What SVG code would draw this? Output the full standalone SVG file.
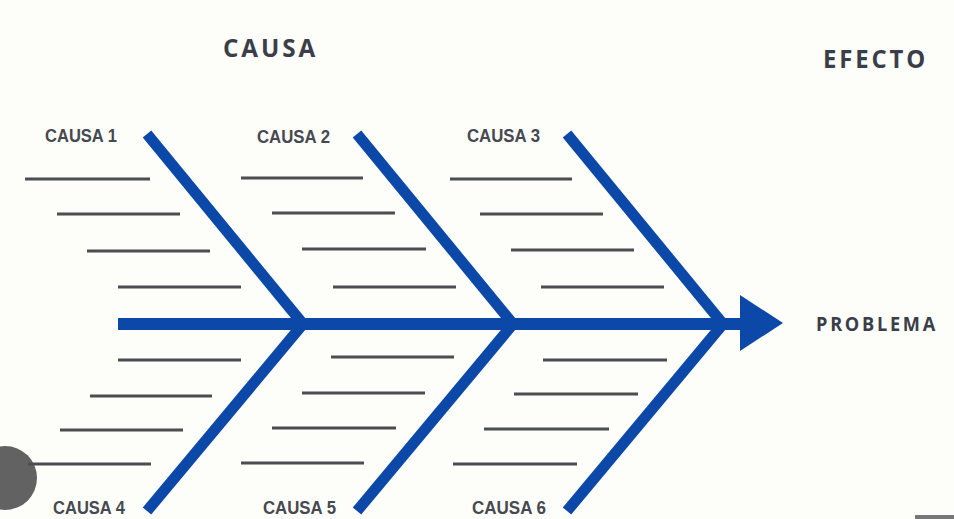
<svg xmlns="http://www.w3.org/2000/svg" width="954" height="519" viewBox="0 0 954 519">
<style>
.bone{stroke:#0b48a8;stroke-width:11;fill:none;stroke-linecap:butt}
.spine{stroke:#0b48a8;stroke-width:12;fill:none}
.sub{stroke:#4a4d52;stroke-width:3;fill:none}
.lbl{font-family:"Liberation Sans",Arial,sans-serif;font-size:19px;fill:#46494f;font-weight:bold}
.ttl{font-family:"Open Sans","Liberation Sans",sans-serif;font-weight:bold;fill:#3a3e48;letter-spacing:3px}
</style>
<rect width="954" height="519" fill="#fdfdf9"/>
<circle cx="5" cy="478" r="32" fill="#626262"/>
<rect x="915" y="515" width="39" height="4" fill="#777"/>
<g id="connectors">
<line class="spine" x1="118" y1="324" x2="745" y2="324"/>
<polygon points="740,295 783,323 740,351" fill="#0b48a8"/>
<line class="bone" x1="147" y1="134" x2="303" y2="324"/>
<line class="bone" x1="303" y1="324" x2="147" y2="511"/>
<line class="bone" x1="357" y1="134" x2="513" y2="324"/>
<line class="bone" x1="513" y1="324" x2="357" y2="511"/>
<line class="bone" x1="567" y1="134" x2="723" y2="324"/>
<line class="bone" x1="723" y1="324" x2="567" y2="511"/>
</g>
<g id="causa1">
<text class="lbl" x="45" y="142" textLength="72" lengthAdjust="spacingAndGlyphs">CAUSA 1</text>
<line class="sub" x1="25" y1="179" x2="150" y2="179"/>
<line class="sub" x1="57" y1="214" x2="180" y2="214"/>
<line class="sub" x1="87" y1="251" x2="210" y2="251"/>
<line class="sub" x1="118" y1="287" x2="241" y2="287"/>
</g>
<g id="causa2">
<text class="lbl" x="257" y="143" textLength="73" lengthAdjust="spacingAndGlyphs">CAUSA 2</text>
<line class="sub" x1="241" y1="178" x2="363" y2="178"/>
<line class="sub" x1="272" y1="213" x2="395" y2="213"/>
<line class="sub" x1="302" y1="249" x2="426" y2="249"/>
<line class="sub" x1="333" y1="287" x2="456" y2="287"/>
</g>
<g id="causa3">
<text class="lbl" x="467" y="142" textLength="73" lengthAdjust="spacingAndGlyphs">CAUSA 3</text>
<line class="sub" x1="450" y1="179" x2="572" y2="179"/>
<line class="sub" x1="480" y1="214" x2="603" y2="214"/>
<line class="sub" x1="511" y1="250" x2="634" y2="250"/>
<line class="sub" x1="541" y1="287" x2="664" y2="287"/>
</g>
<g id="causa4">
<line class="sub" x1="118" y1="360" x2="241" y2="360"/>
<line class="sub" x1="90" y1="396" x2="212" y2="396"/>
<line class="sub" x1="60" y1="430" x2="183" y2="430"/>
<line class="sub" x1="28" y1="464" x2="151" y2="464"/>
<text class="lbl" x="53" y="514" textLength="72" lengthAdjust="spacingAndGlyphs">CAUSA 4</text>
</g>
<g id="causa5">
<line class="sub" x1="331" y1="357" x2="454" y2="357"/>
<line class="sub" x1="302" y1="393" x2="425" y2="393"/>
<line class="sub" x1="272" y1="428" x2="396" y2="428"/>
<line class="sub" x1="241" y1="463" x2="364" y2="463"/>
<text class="lbl" x="263" y="514" textLength="73" lengthAdjust="spacingAndGlyphs">CAUSA 5</text>
</g>
<g id="causa6">
<line class="sub" x1="543" y1="360" x2="667" y2="360"/>
<line class="sub" x1="514" y1="394" x2="638" y2="394"/>
<line class="sub" x1="484" y1="429" x2="609" y2="429"/>
<line class="sub" x1="453" y1="464" x2="577" y2="464"/>
<text class="lbl" x="472" y="514" textLength="74" lengthAdjust="spacingAndGlyphs">CAUSA 6</text>
</g>
<g id="titulo-causa">
<text class="ttl" x="223" y="57" font-size="25" textLength="95" lengthAdjust="spacingAndGlyphs">CAUSA</text>
</g>
<g id="titulo-efecto">
<text class="ttl" x="823" y="68" font-size="25" textLength="105" lengthAdjust="spacingAndGlyphs">EFECTO</text>
</g>
<g id="problema">
<text class="ttl" x="816" y="331" font-size="20" textLength="122" lengthAdjust="spacingAndGlyphs">PROBLEMA</text>
</g>
</svg>
